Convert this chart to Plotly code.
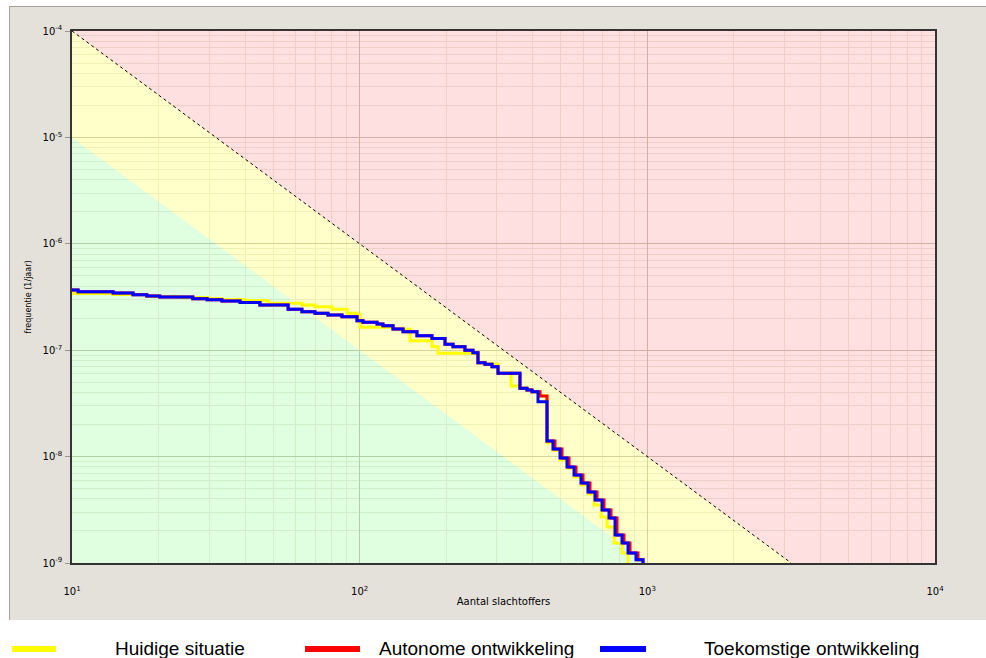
import plotly.graph_objects as go

# ---------------- data ----------------
# Toekomstige ontwikkeling (blue)
blue_n = [10, 10.5, 13.9, 16.3, 18.2, 20.2, 26.3, 29.5, 33.2, 38.4,
          45.0, 56.4, 63.0, 69.9, 77.6, 86.8, 97.9, 102.7, 114.9, 120.5,
          130.6, 141.5, 158.2, 178.4, 198.0, 211.1, 232.3, 247.7, 257.8, 272.7,
          288.4, 302.6, 360.8, 381.6, 397.2, 416.8, 448.0, 469.9, 497.1, 525.7,
          556.1, 588.1, 621.9, 657.9, 695.8, 735.8, 772.1, 816.6, 856.8, 913.4, 966]
blue_f = [3.68e-7, 3.55e-7, 3.45e-7, 3.32e-7, 3.23e-7, 3.16e-7, 3.05e-7, 2.98e-7, 2.90e-7, 2.81e-7,
          2.66e-7, 2.42e-7, 2.30e-7, 2.22e-7, 2.14e-7, 2.06e-7, 1.89e-7, 1.83e-7, 1.76e-7, 1.70e-7,
          1.58e-7, 1.49e-7, 1.37e-7, 1.29e-7, 1.14e-7, 1.08e-7, 1.00e-7, 9.47e-8, 7.63e-8, 7.37e-8,
          7.00e-8, 6.07e-8, 4.39e-8, 4.23e-8, 4.07e-8, 3.28e-8, 1.40e-8, 1.18e-8, 9.70e-9, 7.99e-9,
          6.72e-9, 5.65e-9, 4.65e-9, 3.91e-9, 3.15e-9, 2.65e-9, 1.83e-9, 1.54e-9, 1.24e-9, 1.07e-9, 1.0e-9]

# Autonome ontwikkeling (red)
red_n = [10, 10.5, 13.9, 16.3, 18.2, 20.2, 26.3, 29.5, 33.2, 38.4,
         45.0, 56.4, 63.0, 69.9, 77.6, 86.8, 97.9, 102.7, 114.9, 120.5,
         130.6, 141.5, 158.2, 178.4, 198.0, 211.1, 232.3, 247.7, 257.8, 272.7,
         288.4, 302.6, 360.8, 381.6, 397.2, 423.6, 448.0, 477.4, 505.1, 534.1,
         565.0, 597.5, 631.9, 668.4, 706.9, 747.6, 784.5, 829.7, 870.5, 928.0, 966]
red_f = [3.68e-7, 3.55e-7, 3.45e-7, 3.32e-7, 3.23e-7, 3.16e-7, 3.05e-7, 2.98e-7, 2.90e-7, 2.81e-7,
         2.66e-7, 2.42e-7, 2.30e-7, 2.22e-7, 2.14e-7, 2.06e-7, 1.89e-7, 1.83e-7, 1.76e-7, 1.70e-7,
         1.58e-7, 1.49e-7, 1.37e-7, 1.29e-7, 1.14e-7, 1.08e-7, 1.00e-7, 9.47e-8, 7.63e-8, 7.37e-8,
         7.00e-8, 6.07e-8, 4.39e-8, 4.23e-8, 4.07e-8, 3.71e-8, 1.40e-8, 1.18e-8, 9.70e-9, 7.99e-9,
         6.72e-9, 5.65e-9, 4.65e-9, 3.91e-9, 3.15e-9, 2.65e-9, 1.83e-9, 1.54e-9, 1.24e-9, 1.07e-9, 1.0e-9]

# Huidige situatie (yellow)
yellow_n = [10, 13.9, 18.2, 23.7, 29.5, 33.2, 39.9, 48.0, 63.0, 69.9,
            80.1, 90.4, 97.9, 100.3, 130.6, 149.6, 178.4, 187.3, 257.8, 272.7,
            302.6, 335.9, 360.8, 381.6, 397.2, 423.6, 448.0, 469.9, 497.1, 525.7,
            556.1, 588.1, 621.9, 652.6, 690.2, 724.1, 765.9, 816.6, 856.8]
yellow_f = [3.41e-7, 3.34e-7, 3.20e-7, 3.13e-7, 3.06e-7, 3.00e-7, 2.93e-7, 2.76e-7, 2.66e-7, 2.56e-7,
            2.42e-7, 2.22e-7, 2.14e-7, 1.64e-7, 1.57e-7, 1.23e-7, 1.08e-7, 9.35e-8, 7.63e-8, 7.42e-8,
            6.07e-8, 4.61e-8, 4.39e-8, 4.23e-8, 4.07e-8, 3.71e-8, 1.34e-8, 1.15e-8, 9.29e-9, 7.82e-9,
            6.43e-9, 5.41e-9, 4.45e-9, 3.51e-9, 2.71e-9, 2.18e-9, 1.54e-9, 1.24e-9, 1.0e-9]

# Norm lines (F = C / N^2)
upper_norm_n = [10, 3162.3]
upper_norm_f = [1e-4, 1e-9]
lower_norm_n = [10, 1000]
lower_norm_f = [1e-5, 1e-9]

x_min, x_max = 10, 10000
y_min, y_max = 1e-9, 1e-4

x_tickvals = [10, 100, 1000, 10000]
x_ticktext = ["10<sup>1</sup>", "10<sup>2</sup>", "10<sup>3</sup>", "10<sup>4</sup>"]
y_tickvals = [1e-9, 1e-8, 1e-7, 1e-6, 1e-5, 1e-4]
y_ticktext = ["10<sup>-9</sup>", "10<sup>-8</sup>", "10<sup>-7</sup>",
              "10<sup>-6</sup>", "10<sup>-5</sup>", "10<sup>-4</sup>"]
x_minor = [m * d for d in (10, 100, 1000) for m in range(2, 10)]
y_minor = [m * d for d in (1e-9, 1e-8, 1e-7, 1e-6, 1e-5) for m in range(2, 10)]

series_names = ["Huidige situatie", "Autonome ontwikkeling", "Toekomstige ontwikkeling"]
series_colors = ["rgb(255,255,0)", "rgb(255,0,0)", "rgb(0,0,255)"]

# ---------------- figure ----------------
W, H = 986, 658
L, R, T, B = 72, 935, 31, 563


def px(x):
    return (x - L) / (R - L)


def py(y):
    return (B - y) / (B - T)


fig = go.Figure()

# background zones
fig.add_trace(go.Scatter(
    x=[upper_norm_n[0], x_max, x_max, upper_norm_n[1]],
    y=[upper_norm_f[0], y_max, y_min, upper_norm_f[1]],
    fill="toself", fillcolor="rgba(255,0,10,0.12)", line=dict(width=0),
    mode="lines", hoverinfo="skip", showlegend=False))
fig.add_trace(go.Scatter(
    x=[upper_norm_n[0], upper_norm_n[1], lower_norm_n[1], lower_norm_n[0]],
    y=[upper_norm_f[0], upper_norm_f[1], lower_norm_f[1], lower_norm_f[0]],
    fill="toself", fillcolor="rgba(255,255,0,0.21)", line=dict(width=0),
    mode="lines", hoverinfo="skip", showlegend=False))
fig.add_trace(go.Scatter(
    x=[lower_norm_n[0], lower_norm_n[1], x_min],
    y=[lower_norm_f[0], lower_norm_f[1], y_min],
    fill="toself", fillcolor="rgba(0,255,0,0.12)", line=dict(width=0),
    mode="lines", hoverinfo="skip", showlegend=False))

# dashed norm line
fig.add_trace(go.Scatter(
    x=upper_norm_n, y=upper_norm_f, mode="lines",
    line=dict(color="black", width=1, dash="3px,3px"),
    hoverinfo="skip", showlegend=False))

# FN curves
for n, f, name, col in [(yellow_n, yellow_f, series_names[0], series_colors[0]),
                        (red_n, red_f, series_names[1], series_colors[1]),
                        (blue_n, blue_f, series_names[2], series_colors[2])]:
    fig.add_trace(go.Scatter(x=n, y=f, mode="lines", name=name,
                             line=dict(color=col, width=3, shape="hv"),
                             showlegend=False))

axis_font = dict(family="DejaVu Sans", size=10, color="black")
major_grid = "rgb(205,200,192)"
minor_grid = "rgb(238,235,229)"

fig.update_xaxes(
    type="log", range=[1, 4], tickvals=x_tickvals, ticktext=x_ticktext,
    ticks="", ticklabelstandoff=18, tickfont=axis_font,
    showgrid=True, gridcolor=major_grid, gridwidth=1,
    minor=dict(tickvals=x_minor, showgrid=True, gridcolor=minor_grid, gridwidth=1, ticks=""),
    showline=True, mirror=True, linecolor="#333333", linewidth=1.5, zeroline=False,
    title=dict(text="Aantal slachtoffers", font=dict(family="DejaVu Sans", size=10, color="black"),
               standoff=2),
    automargin=False)
fig.update_yaxes(
    type="log", range=[-9, -4], tickvals=y_tickvals, ticktext=y_ticktext,
    ticks="outside", ticklen=5, tickcolor="rgb(150,150,150)", ticklabelstandoff=1,
    tickfont=axis_font,
    showgrid=True, gridcolor=major_grid, gridwidth=1,
    minor=dict(tickvals=y_minor, showgrid=True, gridcolor=minor_grid, gridwidth=1, ticks=""),
    showline=True, mirror=True, linecolor="#333333", linewidth=1.5, zeroline=False,
    title=dict(text="frequentie (1/jaar)", font=dict(family="DejaVu Sans", size=8, color="black"),
               standoff=10),
    automargin=False)

shapes = [
    # white margins outside the grey panel
    dict(type="rect", xref="paper", yref="paper", x0=px(-10), x1=px(W + 10), y0=py(6), y1=py(-10),
         fillcolor="white", line=dict(width=0), layer="below"),
    dict(type="rect", xref="paper", yref="paper", x0=px(-10), x1=px(9), y0=py(H + 10), y1=py(-10),
         fillcolor="white", line=dict(width=0), layer="below"),
    dict(type="rect", xref="paper", yref="paper", x0=px(-10), x1=px(W + 10), y0=py(H + 10), y1=py(620),
         fillcolor="white", line=dict(width=0), layer="below"),
    # panel borders
    dict(type="line", xref="paper", yref="paper", x0=px(9), x1=px(W + 10), y0=py(6.5), y1=py(6.5),
         line=dict(color="rgb(165,160,152)", width=1), layer="below"),
    dict(type="line", xref="paper", yref="paper", x0=px(9.5), x1=px(9.5), y0=py(6), y1=py(620),
         line=dict(color="rgb(165,160,152)", width=1), layer="below"),
]

# legend swatches and labels
legend_items = [(12, 56, 113), (305, 360, 377), (600, 646, 702)]
annotations = []
for (sx0, sx1, tx), name, col in zip(legend_items, series_names, series_colors):
    shapes.append(dict(type="line", xref="paper", yref="paper", x0=px(sx0), x1=px(sx1),
                       y0=py(649), y1=py(649), line=dict(color=col, width=6)))
    annotations.append(dict(text=name, xref="paper", yref="paper", x=px(tx), y=py(648.5),
                            xanchor="left", yanchor="middle", showarrow=False,
                            font=dict(family="Arial, Liberation Sans", size=19, color="black")))

fig.update_layout(
    width=W, height=H,
    margin=dict(l=L, r=W - R, t=T, b=H - B, autoexpand=False),
    paper_bgcolor="rgb(228,225,219)", plot_bgcolor="white",
    showlegend=False, shapes=shapes, annotations=annotations,
)

fig.write_html(
    "out.html",
    config={"displayModeBar": False},
    post_script="document.body.style.margin='0';document.body.style.padding='0';"
                "document.documentElement.style.overflow='hidden';",
)
